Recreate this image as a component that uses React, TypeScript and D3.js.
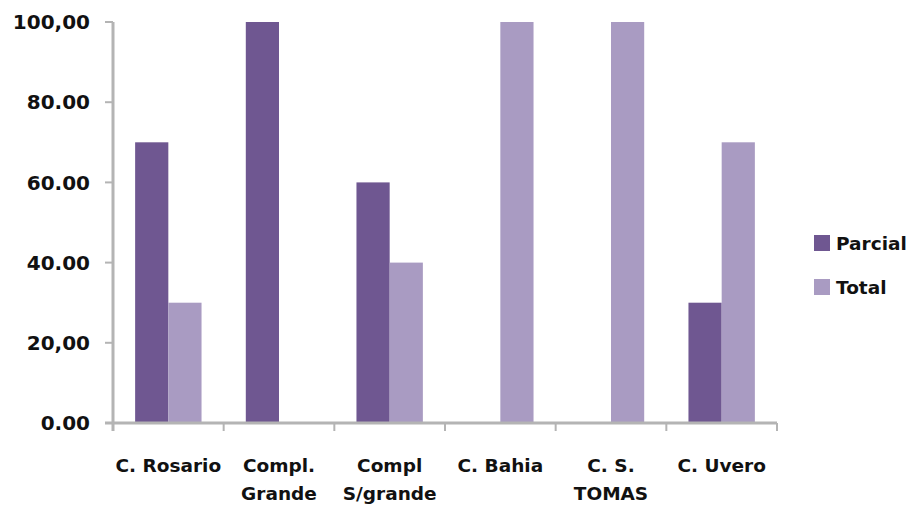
import React from "react";
import * as d3 from "d3";

const categories: string[][] = [
  ["C. Rosario"],
  ["Compl.", "Grande"],
  ["Compl", "S/grande"],
  ["C. Bahia"],
  ["C. S.", "TOMAS"],
  ["C. Uvero"],
];
const seriesNames = ["Parcial", "Total"];
const parcial = [70, 100, 60, 0, 0, 30];
const total = [30, 0, 40, 100, 100, 70];
const yTicks = [0, 20, 40, 60, 80, 100];
const yTickLabels = ["0.00", "20,00", "40.00", "60.00", "80.00", "100,00"];
const colors = ["#6f5791", "#a99bc2"];

const W = 909;
const H = 507;
const left = 113;
const right = 777;
const top = 22;
const bottom = 423;
const font = "'DejaVu Sans', sans-serif";

export default function App() {
  const keys = categories.map((c) => c.join(" "));
  const x0 = d3.scaleBand<string>().domain(keys).range([left, right]).padding(0);
  const bw = x0.bandwidth();
  const x1 = d3.scaleBand<string>().domain(seriesNames).range([bw * 0.2, bw * 0.8]).padding(0);
  const y = d3.scaleLinear().domain([0, 100]).range([bottom, top]);
  const series = [parcial, total];
  const axisColor = "#b4b4b4";

  return (
    <svg width={W} height={H} style={{ position: "absolute", left: 0, top: 0, background: "#fff" }}>
      {/* bars */}
      {keys.map((k, i) =>
        seriesNames.map((s, j) => {
          const v = series[j][i];
          if (!v) return null;
          return (
            <rect
              key={k + s}
              x={(x0(k) ?? 0) + (x1(s) ?? 0)}
              y={y(v)}
              width={x1.bandwidth()}
              height={y(0) - y(v)}
              fill={colors[j]}
            />
          );
        })
      )}
      {/* y axis */}
      <line x1={left} x2={left} y1={top} y2={bottom + 8} stroke={axisColor} strokeWidth={3} />
      {yTicks.map((t, i) => (
        <g key={t}>
          <line x1={left - 8} x2={left} y1={y(t)} y2={y(t)} stroke={axisColor} strokeWidth={2} />
          <text
            x={90}
            y={y(t)}
            dy="0.36em"
            textAnchor="end"
            fontFamily={font}
            fontWeight="bold"
            fontSize={20}
            fill="#111"
          >
            {yTickLabels[i]}
          </text>
        </g>
      ))}
      {/* x axis */}
      <line x1={left - 8} x2={right} y1={bottom} y2={bottom} stroke={axisColor} strokeWidth={3} />
      {keys.map((k) => (
        <line
          key={"t" + k}
          x1={(x0(k) ?? 0) + bw}
          x2={(x0(k) ?? 0) + bw}
          y1={bottom}
          y2={bottom + 8}
          stroke={axisColor}
          strokeWidth={2}
        />
      ))}
      {keys.map((k, i) => (
        <text
          key={"l" + k}
          x={(x0(k) ?? 0) + bw / 2}
          y={472}
          textAnchor="middle"
          fontFamily={font}
          fontWeight="bold"
          fontSize={18.5}
          fill="#111"
        >
          {categories[i].map((line, li) => (
            <tspan key={li} x={(x0(k) ?? 0) + bw / 2} dy={li === 0 ? 0 : 28}>
              {line}
            </tspan>
          ))}
        </text>
      ))}
      {/* legend */}
      {seriesNames.map((s, j) => (
        <g key={s} transform={`translate(814, ${235 + j * 44})`}>
          <rect x={0} y={0} width={16} height={16} fill={colors[j]} />
          <text x={22} y={8} dy="0.36em" fontFamily={font} fontWeight="bold" fontSize={18.5} fill="#111">
            {s}
          </text>
        </g>
      ))}
    </svg>
  );
}
